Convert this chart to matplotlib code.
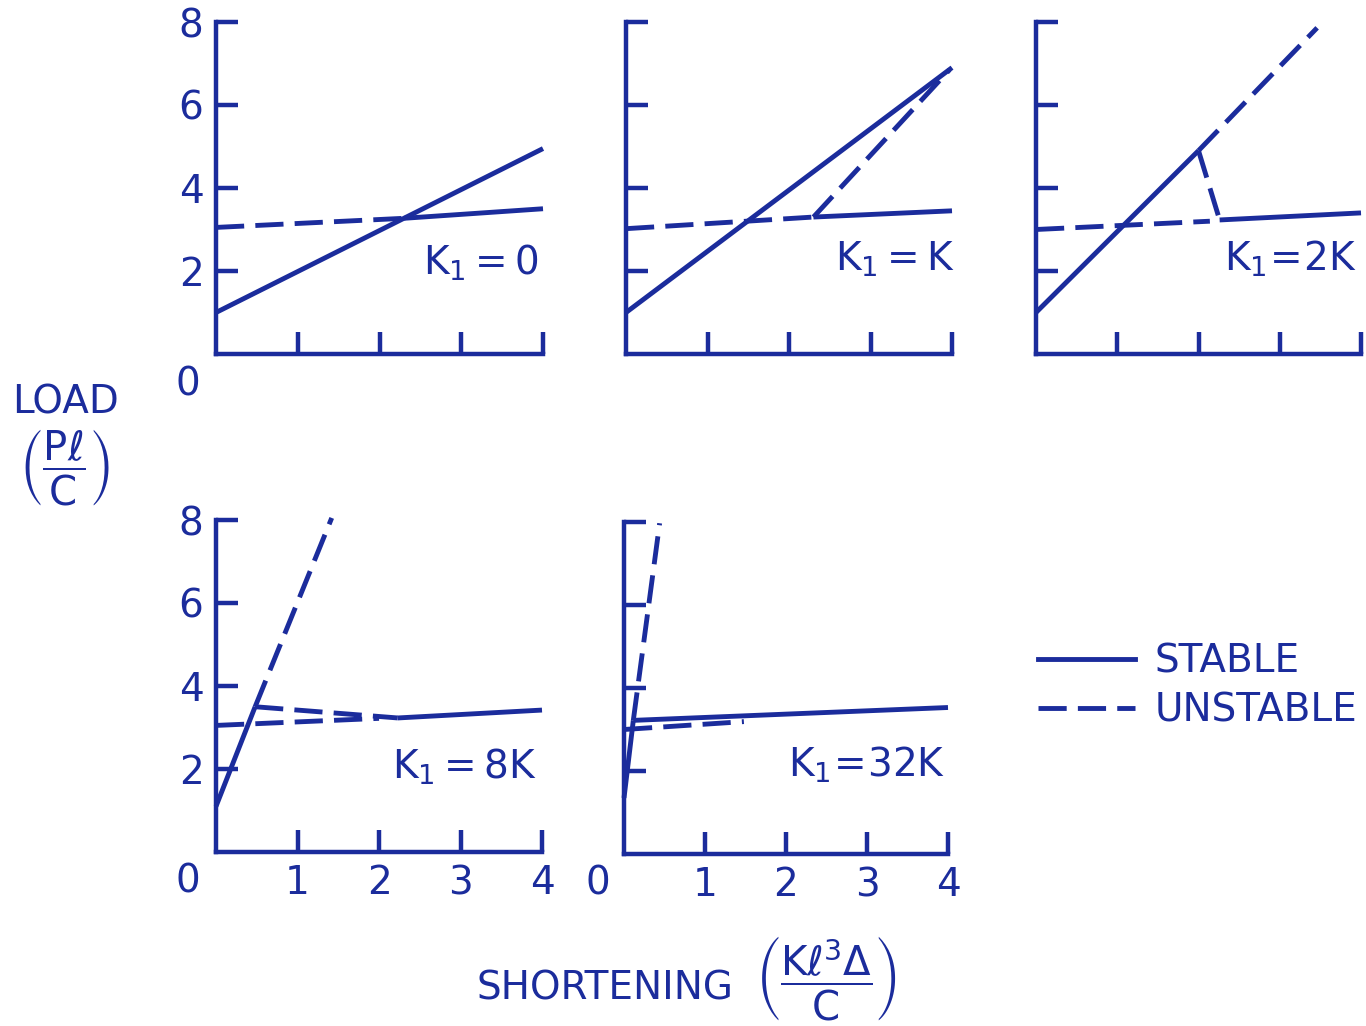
import matplotlib
matplotlib.use("Agg")
import matplotlib.pyplot as plt
from matplotlib.lines import Line2D

INK = "#1b2c9c"

plt.rcParams["font.family"] = ["DejaVu Sans"]
plt.rcParams["mathtext.default"] = "regular"
plt.rcParams["mathtext.fontset"] = "dejavusans"
plt.rcParams["font.size"] = 28
plt.rcParams["text.color"] = INK

# curves: each entry is (x, y) of one polyline, load vs shortening
k0_stable = [([0, 4], [1.0, 4.95]), ([2.3, 4], [3.27, 3.5])]
k0_unstable = [([0, 2.3], [3.05, 3.27])]

k1_stable = [([0, 4], [1.0, 6.9]), ([2.3, 4], [3.3, 3.45])]
k1_unstable = [([0, 2.3], [3.02, 3.3]), ([2.3, 3.97], [3.3, 6.85])]

k2_stable = [([0, 2.0], [1.0, 4.9]), ([2.26, 4], [3.23, 3.4])]
k2_unstable = [([0, 2.14], [3.0, 3.2]), ([2.0, 2.26], [4.9, 3.23]),
               ([2.0, 3.46], [4.9, 7.86])]

k8_stable = [([0, 0.48], [1.1, 3.5]), ([2.23, 4], [3.23, 3.42])]
k8_unstable = [([0.48, 1.42], [3.5, 8.05]), ([0.48, 2.23], [3.5, 3.23]),
               ([0, 2.0], [3.05, 3.22])]

k32_stable = [([0, 0.115], [1.35, 3.22]), ([0.115, 4], [3.22, 3.53])]
k32_unstable = [([0.115, 0.44], [3.22, 7.97]), ([0, 1.48], [3.0, 3.19])]

panel_labels = [r"$K_1 = 0$", r"$K_1 = K$", r"$K_1\!=\!2K$",
                r"$K_1 = 8K$", r"$K_1\!=\!32K$"]
label_pos = [(3.95, 2.2), (4.04, 2.27), (3.95, 2.3), (3.94, 2.05), (3.97, 2.15)]

x_ticks = [1, 2, 3, 4]
y_ticks = [2, 4, 6, 8]

# axes rectangles in pixels: left, bottom spine y, right, top
W, H = 1366, 1026
boxes = [(216, 354, 543, 22), (626, 354, 952, 22), (1036, 354, 1361, 22),
         (216, 852, 542, 520), (624, 854, 948, 522)]

fig = plt.figure(figsize=(W / 100, H / 100), dpi=100)

LW = 3.5
DASH = (5.8, 2.3)


def draw(ax, stable, unstable):
    for x, y in stable:
        ax.plot(x, y, color=INK, lw=LW, solid_capstyle="butt", clip_on=False)
    for x, y in unstable:
        ax.plot(x, y, color=INK, lw=LW, ls=(0, DASH), dash_capstyle="butt",
                clip_on=False)


curves = [(k0_stable, k0_unstable), (k1_stable, k1_unstable),
          (k2_stable, k2_unstable), (k8_stable, k8_unstable),
          (k32_stable, k32_unstable)]

for i, ((l, b, r, t), (st, un)) in enumerate(zip(boxes, curves)):
    ax = fig.add_axes([l / W, 1 - b / H, (r - l) / W, (b - t) / H])
    ax.set_xlim(0, 4)
    ax.set_ylim(0, 8)
    ax.patch.set_alpha(0)
    for s in ("top", "right"):
        ax.spines[s].set_visible(False)
    for s in ("left", "bottom"):
        ax.spines[s].set_linewidth(3.2)
        ax.spines[s].set_color(INK)
        ax.spines[s].set_capstyle("projecting")
    ax.set_xticks(x_ticks)
    ax.set_yticks(y_ticks)
    ax.tick_params(direction="in", length=16, width=3.2, color=INK,
                   labelcolor=INK, labelsize=28, pad=9)
    if i in (0, 3):
        ax.set_yticklabels([str(v) for v in y_ticks])
    else:
        ax.set_yticklabels([])
    if i >= 3:
        ax.set_xticklabels([str(v) for v in x_ticks])
    else:
        ax.set_xticklabels([])
    if i in (0, 3, 4):
        dx = -19 if i == 4 else -20
        dy = -22 if i == 0 else -21
        ax.annotate("0", xy=(0, 0), xytext=(dx, dy), textcoords="offset points",
                    ha="center", va="center", fontsize=28, color=INK,
                    annotation_clip=False)
    draw(ax, st, un)
    lx, ly = label_pos[i]
    ax.text(lx, ly, panel_labels[i], ha="right", va="center", fontsize=28,
            color=INK)

# axis titles
fig.text(65 / W, 1 - 402 / H, "LOAD", ha="center", va="center", fontsize=28)
fig.text(65 / W, 1 - 467 / H, r"$\left(\dfrac{P\ell}{C}\right)$",
         ha="center", va="center", fontsize=29)
fig.text(605 / W, 1 - 988 / H, "SHORTENING", ha="center", va="center",
         fontsize=28)
fig.text(826 / W, 1 - 978 / H, r"$\left(\dfrac{K\ell^{3}\Delta}{C}\right)$",
         ha="center", va="center", fontsize=29)

handles = [Line2D([], [], color=INK, lw=LW),
           Line2D([], [], color=INK, lw=LW, ls=(0, DASH))]
fig.legend(handles, ["STABLE", "UNSTABLE"], loc="center left",
           bbox_to_anchor=(1003 / W, 1 - 686 / H), frameon=False,
           fontsize=28, handlelength=2.5, handletextpad=0.5,
           labelspacing=0.3, labelcolor=INK)

fig.savefig("out.png", dpi=100, facecolor="white")
